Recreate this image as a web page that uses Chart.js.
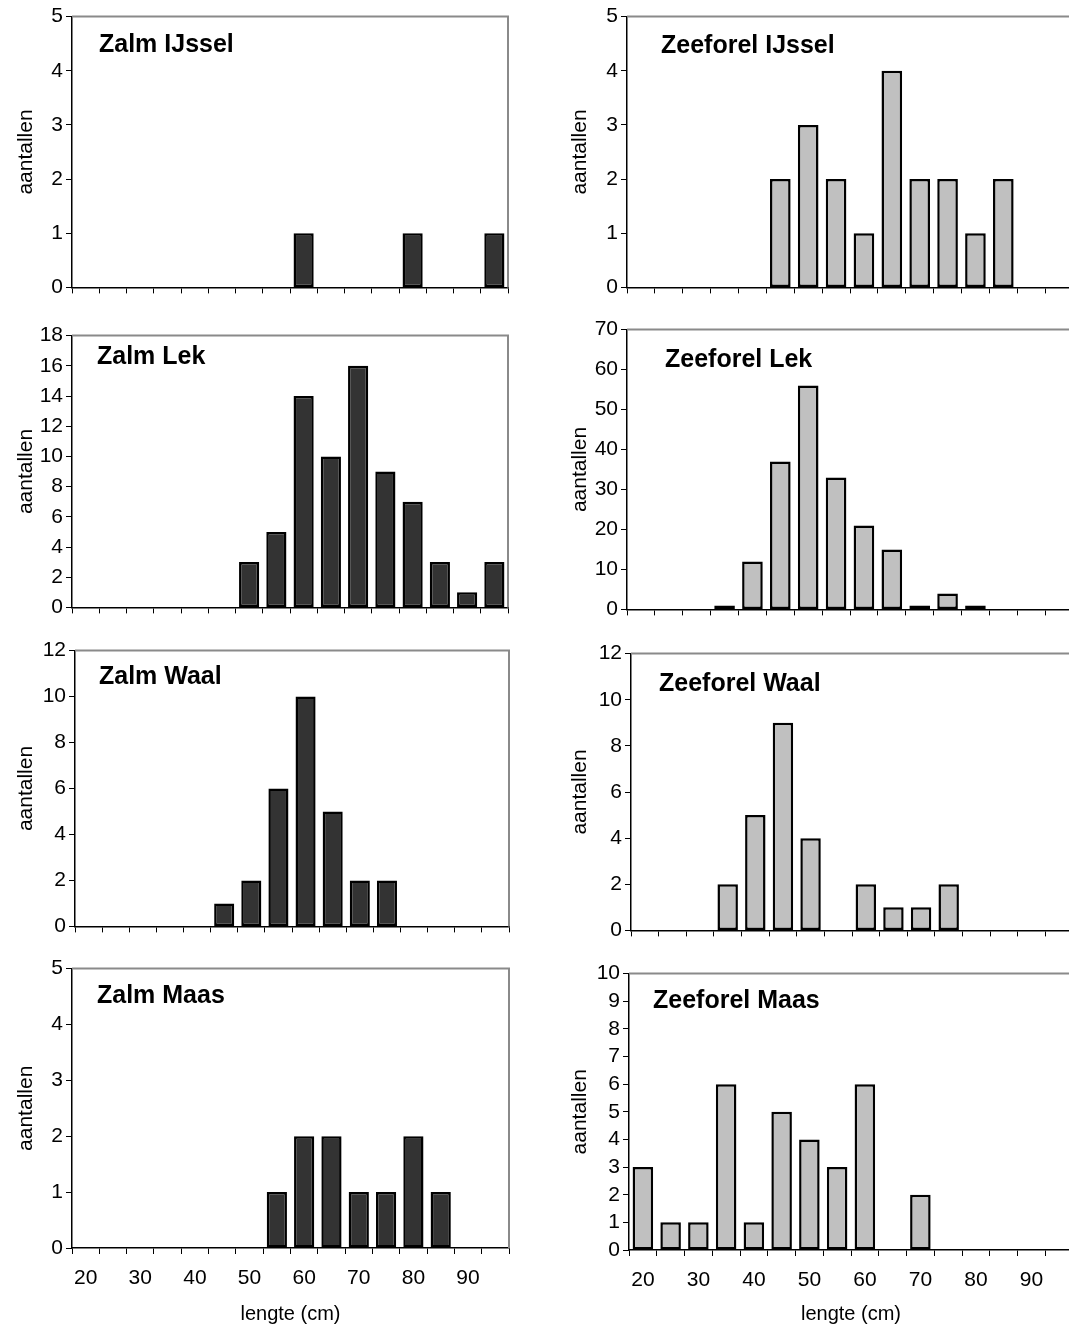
<!DOCTYPE html>
<html>
<head>
<meta charset="utf-8">
<script src="https://cdn.jsdelivr.net/npm/chart.js@4.4.1/dist/chart.umd.min.js"></script>
<style>
html,body{margin:0;padding:0;background:#fff;overflow:hidden;width:1069px;height:1333px;}
canvas{position:absolute;}
</style>
</head>
<body>
<script>
// ---- DATA ----
const lengthClasses = ['20','25','30','35','40','45','50','55','60','65','70','75','80','85','90','95'];
const xTickLabels = ['20','30','40','50','60','70','80','90'];
const yAxisTitle = 'aantallen';
const xAxisTitle = 'lengte (cm)';

const zalmIJssel     = [0,0,0,0,0,0,0,0,1,0,0,0,1,0,0,1];
const zeeforelIJssel = [0,0,0,0,0,2,3,2,1,4,2,2,1,2,0,0];
const zalmLek        = [0,0,0,0,0,0,3,5,14,10,16,9,7,3,1,3];
const zeeforelLek    = [0,0,0,1,12,37,56,33,21,15,1,4,1,0,0,0];
const zalmWaal       = [0,0,0,0,0,1,2,6,10,5,2,2,0,0,0,0];
const zeeforelWaal   = [0,0,0,2,5,9,4,0,2,1,1,2,0,0,0,0];
const zalmMaas       = [0,0,0,0,0,0,0,1,2,2,1,1,2,1,0,0];
const zeeforelMaas   = [3,1,1,6,1,5,4,3,6,0,2,0,0,0,0,0];

const panelTitles = ['Zalm IJssel','Zeeforel IJssel','Zalm Lek','Zeeforel Lek','Zalm Waal','Zeeforel Waal','Zalm Maas','Zeeforel Maas'];
const panelSeries = [zalmIJssel, zeeforelIJssel, zalmLek, zeeforelLek, zalmWaal, zeeforelWaal, zalmMaas, zeeforelMaas];
const yMax  = [5, 5, 18, 70, 12, 12, 5, 10];
const yStep = [1, 1, 2, 10, 2, 2, 1, 1];

// ---- LAYOUT (positions / styles) ----
const ZALM_FILL = '#333333', ZEEFOREL_FILL = '#c0c0c0';
const FONT = '"Liberation Sans", Arial, Helvetica, sans-serif';
const TICK_SIZE = 21;
const layout = [
  {l:72,  t:15,  r:508,  b:293,  tx:99,  ty:52,   fill:ZALM_FILL,     col:0, last:false},
  {l:627, t:15,  r:1073, b:293,  tx:661, ty:53,   fill:ZEEFOREL_FILL, col:1, last:false},
  {l:72,  t:334, r:508,  b:613,  tx:97,  ty:364,  fill:ZALM_FILL,     col:0, last:false},
  {l:627, t:328, r:1073, b:615,  tx:665, ty:367,  fill:ZEEFOREL_FILL, col:1, last:false},
  {l:75,  t:649, r:509,  b:932,  tx:99,  ty:684,  fill:ZALM_FILL,     col:0, last:false},
  {l:631, t:652, r:1073, b:936,  tx:659, ty:691,  fill:ZEEFOREL_FILL, col:1, last:false},
  {l:72,  t:967, r:509,  b:1248, tx:97,  ty:1003, fill:ZALM_FILL,     col:0, last:true},
  {l:629, t:972, r:1073, b:1250, tx:653, ty:1008, fill:ZEEFOREL_FILL, col:1, last:true}
];

const framePlugin = {
  id: 'frame',
  beforeDatasetsDraw(chart, args, opts) {
    const {ctx, chartArea: a} = chart;
    ctx.save();
    ctx.strokeStyle = '#8a8a8a';
    ctx.lineWidth = 2;
    ctx.beginPath();
    ctx.moveTo(a.left, a.top);
    ctx.lineTo(a.right, a.top);
    ctx.lineTo(a.right, a.bottom);
    ctx.stroke();
    ctx.fillStyle = '#000';
    ctx.font = 'bold 25px ' + FONT;
    ctx.textBaseline = 'alphabetic';
    ctx.textAlign = 'left';
    ctx.fillText(opts.text, opts.x, opts.y);
    ctx.restore();
  }
};

const PAD_TOP = 14, PAD_RIGHT = 4;

layout.forEach((p, i) => {
  const canvasLeft = p.col === 0 ? 0 : 540;
  const xh = p.last ? (1333 - p.b) : 10;
  const cTop = p.t - PAD_TOP;
  const cW = p.r - canvasLeft + PAD_RIGHT;
  const cH = p.b - cTop + xh;
  const cv = document.createElement('canvas');
  cv.width = cW; cv.height = cH;
  cv.style.left = canvasLeft + 'px';
  cv.style.top = cTop + 'px';
  cv.style.width = cW + 'px';
  cv.style.height = cH + 'px';
  document.body.appendChild(cv);

  const yTitleCenter = p.col === 0 ? 26 : 40;
  const yTitleSize = 21;
  const yTitleLH = yTitleSize * 1.2;

  new Chart(cv, {
    type: 'bar',
    data: {
      labels: lengthClasses,
      datasets: [{
        data: panelSeries[i].map(v => v === 0 ? null : v),
        backgroundColor: p.fill,
        borderColor: '#000',
        borderWidth: 2.5,
        borderSkipped: false,
        barPercentage: 0.74,
        categoryPercentage: 1.0
      }]
    },
    options: {
      responsive: false,
      animation: false,
      devicePixelRatio: 1,
      layout: {padding: {left: 0, right: PAD_RIGHT, top: PAD_TOP, bottom: 0}},
      plugins: {
        legend: {display: false},
        tooltip: {enabled: false},
        frame: {text: panelTitles[i], x: p.tx - canvasLeft, y: p.ty - cTop}
      },
      scales: {
        x: {
          type: 'category',
          offset: true,
          grid: {display: true, offset: true, drawOnChartArea: false, drawTicks: true, tickLength: 6, color: '#000', lineWidth: 1},
          border: {display: true, color: '#000', width: 1.5},
          ticks: {
            display: p.last,
            autoSkip: false,
            maxRotation: 0,
            minRotation: 0,
            padding: 12,
            color: '#000',
            font: {family: FONT, size: TICK_SIZE},
            callback: function(value) {
              const lab = this.getLabelForValue(value);
              return xTickLabels.includes(lab) ? lab : '';
            }
          },
          title: {
            display: p.last,
            text: xAxisTitle,
            color: '#000',
            font: {family: FONT, size: 20},
            padding: {top: 0, bottom: 7}
          },
          afterFit: (s) => { s.height = xh; }
        },
        y: {
          min: 0,
          max: yMax[i],
          grid: {display: true, drawOnChartArea: false, drawTicks: true, tickLength: 6, color: '#000', lineWidth: 1},
          border: {display: true, color: '#000', width: 1.5},
          ticks: {
            stepSize: yStep[i],
            autoSkip: false,
            padding: 3,
            color: '#000',
            font: {family: FONT, size: TICK_SIZE}
          },
          title: {
            display: true,
            text: yAxisTitle,
            color: '#000',
            font: {family: FONT, size: yTitleSize},
            padding: {top: yTitleCenter - yTitleLH / 2, bottom: 0}
          },
          afterFit: (s) => { s.width = p.l - canvasLeft; }
        }
      }
    },
    plugins: [framePlugin]
  });
});
</script>
</body>
</html>
